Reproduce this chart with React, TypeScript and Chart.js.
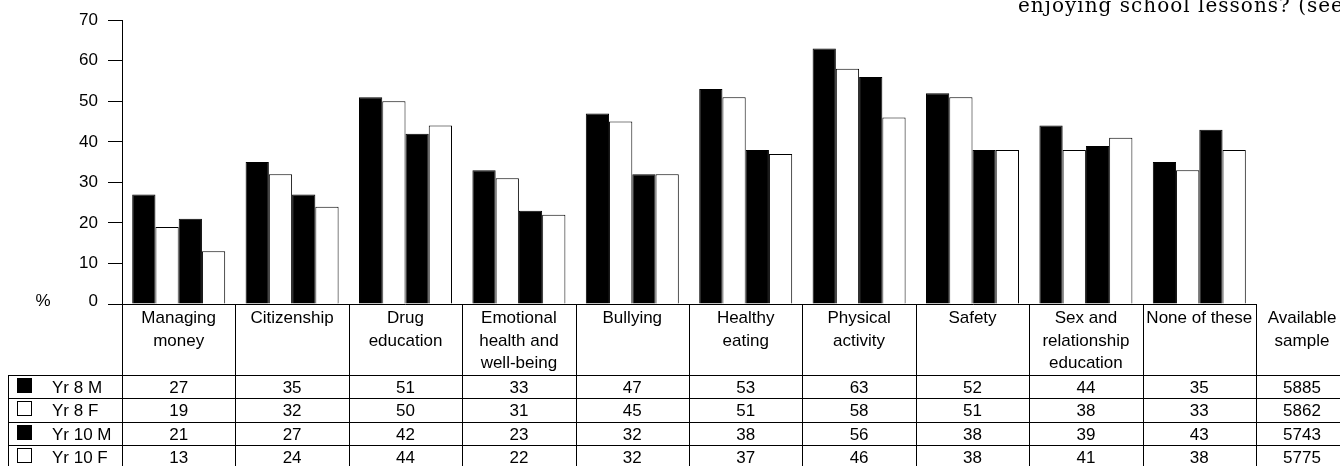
import React, { useEffect, useRef } from "react";
import { Chart, registerables } from "chart.js";

Chart.register(...registerables);

const categories: string[][] = [
  ["Managing", "money"],
  ["Citizenship"],
  ["Drug", "education"],
  ["Emotional", "health and", "well-being"],
  ["Bullying"],
  ["Healthy", "eating"],
  ["Physical", "activity"],
  ["Safety"],
  ["Sex and", "relationship", "education"],
  ["None of these"],
];

const seriesNames = ["Yr 8 M", "Yr 8 F", "Yr 10 M", "Yr 10 F"];
const seriesFills = ["#000000", "#ffffff", "#000000", "#ffffff"];

const yr8M = [27, 35, 51, 33, 47, 53, 63, 52, 44, 35];
const yr8F = [19, 32, 50, 31, 45, 51, 58, 51, 38, 33];
const yr10M = [21, 27, 42, 23, 32, 38, 56, 38, 39, 43];
const yr10F = [13, 24, 44, 22, 32, 37, 46, 38, 41, 38];

const availableSample = [5885, 5862, 5743, 5775];
const sampleHeader = ["Available", "sample"];

const yMin = 0;
const yMax = 70;
const yStep = 10;

const titleText = "enjoying school lessons? (see";
const axisUnit = "%";

const FONT = '"Liberation Sans", Arial, Helvetica, sans-serif';
const SERIF = '"DejaVu Serif", "Liberation Serif", serif';

const seriesValues = [yr8M, yr8F, yr10M, yr10F];

const tablePlugin = {
  id: "dataTable",
  afterDraw(chart: any) {
    const ctx: CanvasRenderingContext2D = chart.ctx;
    const xs = chart.scales.x;
    const area = chart.chartArea;
    const n = categories.length;
    const cw = (area.right - area.left) / n;
    const top = area.bottom;
    const headerBottom = 375;
    const rowH = 23.4;
    const W = chart.width;
    const H = chart.height;
    const px = (v: number) => Math.round(v) + 0.5;

    ctx.save();
    ctx.strokeStyle = "#000";
    ctx.lineWidth = 1;
    ctx.beginPath();
    for (let i = 0; i <= n; i++) {
      const xx = px(area.left + i * cw);
      ctx.moveTo(xx, top);
      ctx.lineTo(xx, H);
    }
    ctx.moveTo(px(8), headerBottom);
    ctx.lineTo(px(8), H);
    for (let r = 0; r < seriesNames.length; r++) {
      const yy = px(headerBottom + r * rowH);
      ctx.moveTo(8, yy);
      ctx.lineTo(W, yy);
    }
    ctx.stroke();

    ctx.fillStyle = "#000";
    ctx.font = `17px ${FONT}`;
    ctx.textAlign = "center";
    ctx.textBaseline = "alphabetic";

    // header labels
    categories.forEach((lines, i) => {
      const cx = xs.getPixelForValue(i);
      lines.forEach((t, j) => {
        ctx.fillText(t, cx, 323 + j * 22.5);
      });
    });
    const sx = area.right + 46;
    sampleHeader.forEach((t, j) => ctx.fillText(t, sx, 323 + j * 22.5));

    // rows
    seriesNames.forEach((name, r) => {
      const rt = headerBottom + r * rowH;
      const base = rt + 18;
      ctx.fillStyle = seriesFills[r];
      ctx.fillRect(17, Math.round(rt) + 3, 15, 15);
      ctx.strokeStyle = "#000";
      ctx.strokeRect(17.5, Math.round(rt) + 3.5, 14, 14);
      ctx.fillStyle = "#000";
      ctx.textAlign = "left";
      ctx.fillText(name, 52, base);
      ctx.textAlign = "center";
      seriesValues[r].forEach((v, i) => {
        ctx.fillText(String(v), xs.getPixelForValue(i), base);
      });
      ctx.fillText(String(availableSample[r]), sx, base);
    });

    // axis unit and zero label
    ctx.textAlign = "center";
    ctx.fillText(axisUnit, 43, 306);
    ctx.textAlign = "right";
    ctx.fillText(String(yMin), 98, 306);

    // title (second line, cut at top)
    ctx.textAlign = "left";
    ctx.font = `20px ${SERIF}`;
    const w = ctx.measureText(titleText).width;
    const target = 326;
    const ls = Math.max(0, (target - w) / titleText.length);
    (ctx as any).letterSpacing = `${ls.toFixed(2)}px`;
    ctx.fillText(titleText, 1018, 12);
    (ctx as any).letterSpacing = "0px";

    ctx.restore();
  },
};

export default function App() {
  const ref = useRef<HTMLCanvasElement | null>(null);

  useEffect(() => {
    if (!ref.current) return;
    const chart = new Chart(ref.current, {
      type: "bar",
      data: {
        labels: categories,
        datasets: seriesNames.map((name, i) => ({
          label: name,
          data: seriesValues[i],
          backgroundColor: seriesFills[i],
          borderColor: "#000000",
          borderWidth: 1,
          categoryPercentage: 0.82,
          barPercentage: 1.0,
        })),
      },
      options: {
        responsive: false,
        animation: false,
        layout: { padding: { left: 0, right: 84, top: 17, bottom: 0 } },
        plugins: {
          legend: { display: false },
          tooltip: { enabled: false },
          title: { display: false },
        },
        scales: {
          x: {
            type: "category",
            offset: true,
            grid: { display: false },
            border: { display: true, color: "#000", width: 1 },
            ticks: { display: false },
            afterFit: (s: any) => {
              s.height = 162;
            },
          },
          y: {
            min: yMin,
            max: yMax,
            afterFit: (s: any) => {
              s.width = 122;
            },
            ticks: {
              stepSize: yStep,
              color: "#000",
              font: { family: FONT, size: 17 },
              padding: 10,
              callback: (v: any) => (Number(v) === 0 ? "" : String(v)),
            },
            grid: {
              drawOnChartArea: false,
              drawTicks: true,
              tickLength: 14,
              color: "#000",
            },
            border: { display: true, color: "#000", width: 1 },
          },
        },
      },
      plugins: [tablePlugin],
    });
    return () => chart.destroy();
  }, []);

  return (
    <div style={{ position: "absolute", left: 0, top: 0, width: 1340, height: 466, background: "#fff" }}>
      <canvas ref={ref} width={1340} height={466} style={{ display: "block" }} />
    </div>
  );
}
